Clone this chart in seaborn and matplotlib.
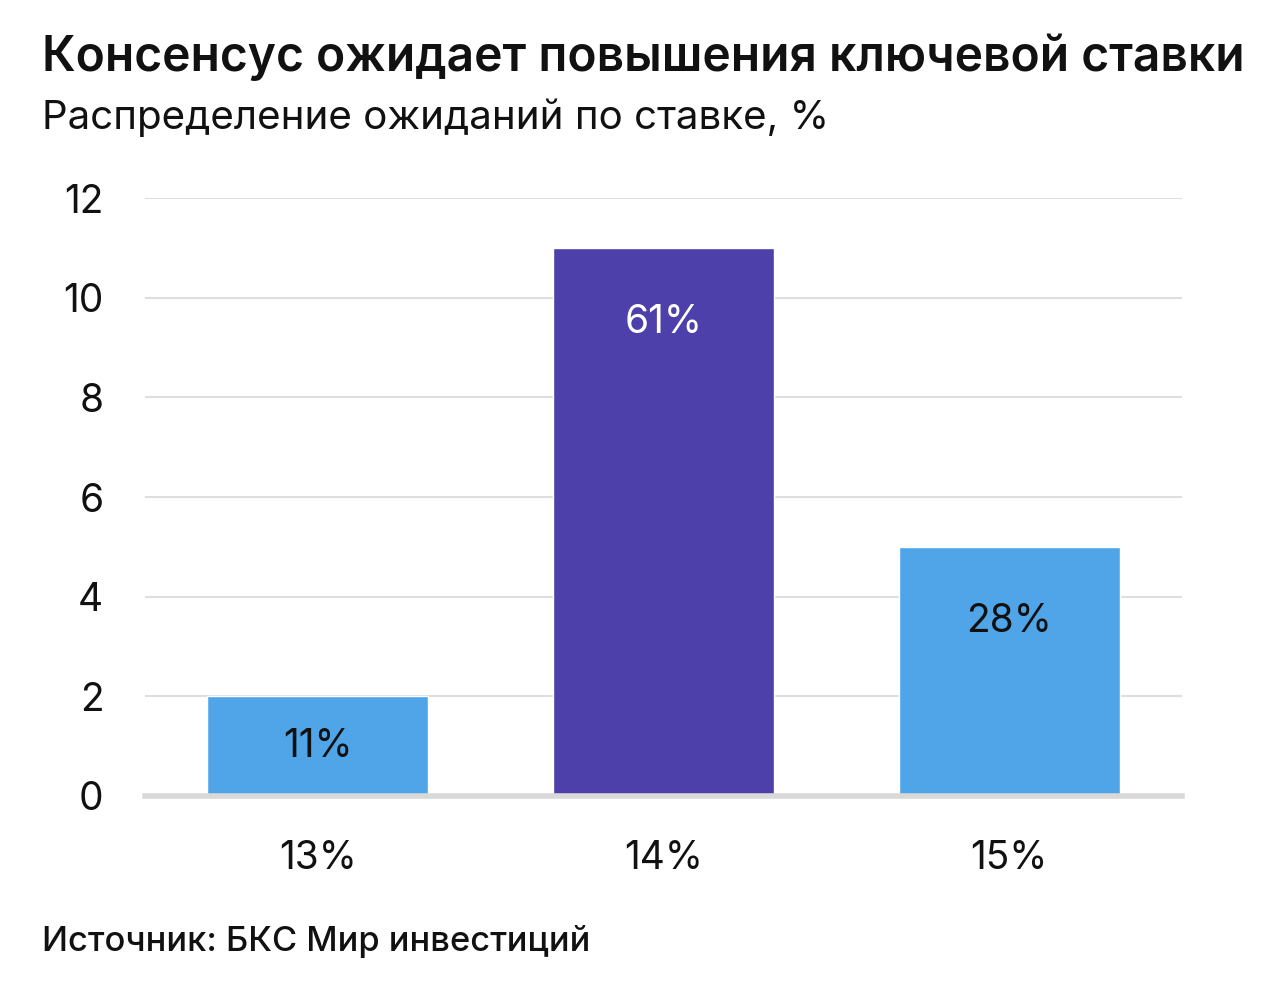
import matplotlib
matplotlib.use("Agg")
import matplotlib.pyplot as plt
import seaborn as sns
import pandas as pd

# data
rates = ["13%", "14%", "15%"]
counts = [2, 11, 5]
shares = ["11%", "61%", "28%"]
bar_colors = ["#4FA5E8", "#4E40AA", "#4FA5E8"]
label_colors = ["#111111", "#FFFFFF", "#111111"]
yticks = [0, 2, 4, 6, 8, 10, 12]

sns.set_theme(style="white")
plt.rcParams['font.family'] = ['Inter', 'DejaVu Sans']

df = pd.DataFrame({"rate": rates, "count": counts})

fig = plt.figure(figsize=(12.82, 10), dpi=100)
ax = fig.add_axes([0.1131, 0.204, 0.8089, 0.598])

sns.barplot(data=df, x="rate", y="count", hue="rate", palette=bar_colors,
            legend=False, width=0.64, saturation=1, ax=ax, zorder=2)

ax.set_xlim(-0.5, 2.5)
ax.set_ylim(0, 12)
ax.set_yticks(yticks)
ax.yaxis.grid(True, color="#DEDEDE", linewidth=1.5, zorder=0)
ax.set_axisbelow(True)
for s in ["top", "right", "left"]:
    ax.spines[s].set_visible(False)
ax.spines["bottom"].set_color("#D9D9D9")
ax.spines["bottom"].set_linewidth(4)
ax.spines["bottom"].set_zorder(3)
ax.tick_params(axis="both", length=0, labelsize=28, colors="#111111")
ax.tick_params(axis="y", pad=30)
ax.tick_params(axis="x", pad=32)
ax.set_xlabel("")
ax.set_ylabel("")

# labels inside bars
for i, (v, lab, c) in enumerate(zip(counts, shares, label_colors)):
    ax.text(i, max(v / 2, v - 1.5), lab, ha="center", va="center",
            fontsize=28, color=c, zorder=4)

fig.text(0.033, 0.943, "Консенсус ожидает повышения ключевой ставки",
         fontsize=34.5, fontweight="semibold", color="#111111", va="center")
fig.text(0.033, 0.882, "Распределение ожиданий по ставке, %",
         fontsize=29, color="#111111", va="center")
fig.text(0.033, 0.059, "Источник: БКС Мир инвестиций",
         fontsize=24.8, fontweight="medium", color="#111111", va="center")

fig.savefig("out.png", dpi=100, facecolor="white")
